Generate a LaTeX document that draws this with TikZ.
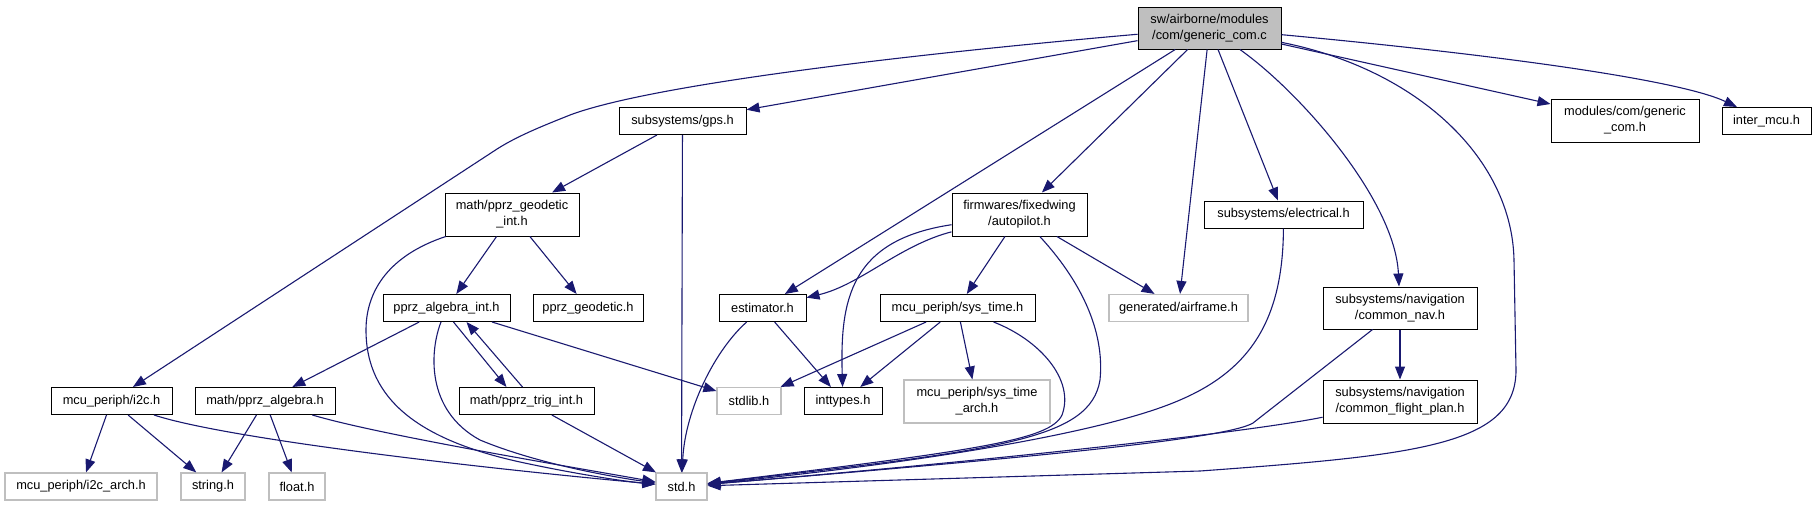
\documentclass[tikz,border=0pt]{standalone}
\usepackage{fontspec}
\setmainfont{Liberation Sans}
\usetikzlibrary{arrows.meta}
\definecolor{edgeblue}{RGB}{25,25,112}
\definecolor{graybd}{RGB}{191,191,191}
\definecolor{mainfill}{RGB}{191,191,191}
\begin{document}
\begin{tikzpicture}[x=1pt,y=-1pt,
 box/.style={draw=black,line width=1pt,rectangle,inner sep=0pt,align=center,font=\fontsize{12.8}{16}\selectfont},
 gbox/.style={box,draw=graybd,line width=1.2pt},
 edge/.style={draw=edgeblue,line width=1.1pt,-{Triangle[length=13pt,width=10pt]}},
]
\useasboundingbox (0,0) rectangle (1816,507);
% rank 0
\node[box,fill=mainfill,minimum width=143pt,minimum height=42pt] (main) at (1209.5,28) {sw/airborne/modules\\/com/generic\_com.c};
% rank 1
\node[box,minimum width=127pt,minimum height=27pt] (gps) at (682.5,121) {subsystems/gps.h};
\node[box,minimum width=148pt,minimum height=43pt] (gencom) at (1625,120.5) {modules/com/generic\\\_com.h};
\node[box,minimum width=89pt,minimum height=27pt] (intermcu) at (1766.5,121) {inter\_mcu.h};
% rank 2
\node[box,minimum width=134pt,minimum height=43pt] (geoint) at (512,214.5) {math/pprz\_geodetic\\\_int.h};
\node[box,minimum width=135pt,minimum height=43pt] (autopilot) at (1019.5,214.5) {firmwares/fixedwing\\/autopilot.h};
\node[box,minimum width=159pt,minimum height=27pt] (electrical) at (1283.5,214.5) {subsystems/electrical.h};
% rank 3
\node[box,minimum width=127pt,minimum height=27pt] (algint) at (446.5,308) {pprz\_algebra\_int.h};
\node[box,minimum width=110pt,minimum height=27pt] (geodetic) at (588,308) {pprz\_geodetic.h};
\node[box,minimum width=87pt,minimum height=27pt] (estimator) at (762.5,308) {estimator.h};
\node[box,minimum width=155pt,minimum height=27pt] (systime) at (957.5,308) {mcu\_periph/sys\_time.h};
\node[gbox,minimum width=139pt,minimum height=27pt] (airframe) at (1178.5,308) {generated/airframe.h};
\node[box,minimum width=154pt,minimum height=42pt] (commonnav) at (1400,308) {subsystems/navigation\\/common\_nav.h};
% rank 4
\node[box,minimum width=121pt,minimum height=27pt] (i2c) at (111.5,401) {mcu\_periph/i2c.h};
\node[box,minimum width=140pt,minimum height=27pt] (algebra) at (265,401) {math/pprz\_algebra.h};
\node[box,minimum width=135pt,minimum height=27pt] (trig) at (526.5,401) {math/pprz\_trig\_int.h};
\node[gbox,minimum width=64pt,minimum height=27pt] (stdlib) at (749,401) {stdlib.h};
\node[box,minimum width=78pt,minimum height=27pt] (inttypes) at (843,401) {inttypes.h};
\node[gbox,minimum width=146pt,minimum height=43pt] (systimearch) at (977,401.5) {mcu\_periph/sys\_time\\\_arch.h};
\node[box,minimum width=154pt,minimum height=43pt] (cfp) at (1400,401.5) {subsystems/navigation\\/common\_flight\_plan.h};
% rank 5
\node[gbox,minimum width=152pt,minimum height=27pt] (i2carch) at (81,486.5) {mcu\_periph/i2c\_arch.h};
\node[gbox,minimum width=64pt,minimum height=27pt] (string) at (213,486.5) {string.h};
\node[gbox,minimum width=56pt,minimum height=27pt] (float) at (297,486.5) {float.h};
\node[gbox,minimum width=51pt,minimum height=27pt] (std) at (681.5,486.5) {std.h};

% edges from main
\draw[edge] (main) .. controls (900,55) and (650,85) .. (570,115) .. controls (540,127) and (515,137) .. (494,151) -- (i2c);
\draw[edge] (main) -- (gps);
\draw[edge] (main) -- (estimator);
\draw[edge] (main) -- (autopilot);
\draw[edge] (main) -- (airframe);
\draw[edge] (main) -- (electrical);
\draw[edge] (main) .. controls (1300,92) and (1395,200) .. (commonnav);
\draw[edge] (main) .. controls (1420,70) and (1512,160) .. (1514,260) -- (1516,370) .. controls (1516,445) and (1420,455) .. (1200,471) -- (std);
\draw[edge] (main) -- (gencom);
\draw[edge] (main) .. controls (1500,55) and (1680,80) .. (intermcu);
% gps
\draw[edge] (gps) -- (geoint);
\draw[edge] (gps) -- (std);
% geoint
\draw[edge] (geoint) -- (algint);
\draw[edge] (geoint) -- (geodetic);
\draw[edge] (geoint) .. controls (390,255) and (366,290) .. (366,330) .. controls (366,400) and (420,440) .. (520,462) .. controls (580,475) and (630,482) .. (std);
% autopilot
\draw[edge] (autopilot) .. controls (900,245) and (860,285) .. (estimator);
\draw[edge] (autopilot) .. controls (850,240) and (840,300) .. (inttypes);
\draw[edge] (autopilot) -- (systime);
\draw[edge] (autopilot) -- (airframe);
\draw[edge] (autopilot) .. controls (1080,280) and (1105,330) .. (1100,380) .. controls (1090,440) and (1000,450) .. (std);
% electrical
\draw[edge] (electrical) .. controls (1283,320) and (1250,370) .. (1180,400) .. controls (1100,435) and (900,465) .. (std);
% algint
\draw[edge] (algint) -- (algebra);
\draw[edge] ([xshift=7pt]algint.south) -- ([xshift=-20pt]trig.north);
\draw[edge] ([xshift=-4pt]trig.north) -- ([xshift=20pt]algint.south);
\draw[edge] (algint) .. controls (430,350) and (425,410) .. (480,440) .. controls (540,465) and (620,478) .. (std);
\draw[edge] (algint) -- (stdlib);
% trig
\draw[edge] (trig) -- (std);
% estimator
\draw[edge] (estimator) .. controls (715,350) and (685,410) .. (std);
\draw[edge] (estimator) -- (inttypes);
% systime
\draw[edge] (systime) -- (stdlib);
\draw[edge] (systime) -- (inttypes);
\draw[edge] (systime) -- (systimearch);
\draw[edge] (systime) .. controls (1040,340) and (1075,380) .. (1062,415) .. controls (1050,440) and (980,450) .. (std);
% navigation
\draw[edge] (commonnav) -- (cfp);
\draw[edge] (commonnav) -- (1253,423) .. controls (1225,440) and (1000,460) .. (std);
\draw[edge] (cfp) .. controls (1250,432) and (1000,460) .. (std);
% i2c
\draw[edge] (i2c) -- (i2carch);
\draw[edge] (i2c) -- (string);
\draw[edge] (i2c) .. controls (230,440) and (500,470) .. (std);
% algebra
\draw[edge] (algebra) -- (string);
\draw[edge] (algebra) -- (float);
\draw[edge] (algebra) .. controls (380,435) and (560,465) .. (std);
\end{tikzpicture}
\end{document}
